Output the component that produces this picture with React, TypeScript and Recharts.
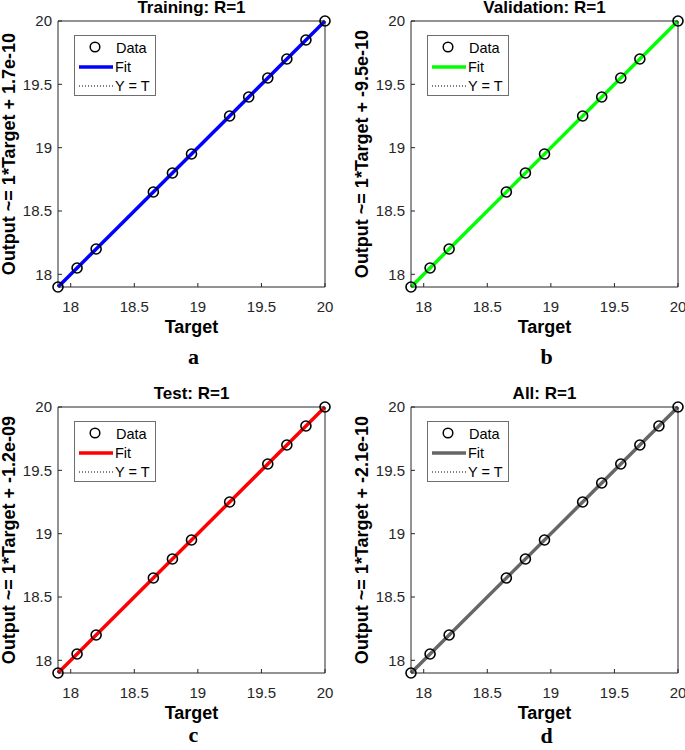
import React from 'react';
import { ComposedChart, Scatter, Line, XAxis, YAxis, ReferenceLine, Legend, Label } from 'recharts';

// ---- data ----
const axisDomain = [17.9, 20];
const axisTicks = [18, 18.5, 19, 19.5, 20];

const trainingTargets = [17.9, 18.05, 18.2, 18.65, 18.8, 18.95, 19.25, 19.4, 19.55, 19.7, 19.85, 20];
const trainingOutputs = [17.9, 18.05, 18.2, 18.65, 18.8, 18.95, 19.25, 19.4, 19.55, 19.7, 19.85, 20];

const validationTargets = [17.9, 18.05, 18.2, 18.65, 18.8, 18.95, 19.25, 19.4, 19.55, 19.7, 20];
const validationOutputs = [17.9, 18.05, 18.2, 18.65, 18.8, 18.95, 19.25, 19.4, 19.55, 19.7, 20];

const testTargets = [17.9, 18.05, 18.2, 18.65, 18.8, 18.95, 19.25, 19.55, 19.7, 19.85, 20];
const testOutputs = [17.9, 18.05, 18.2, 18.65, 18.8, 18.95, 19.25, 19.55, 19.7, 19.85, 20];

const allTargets = [17.9, 18.05, 18.2, 18.65, 18.8, 18.95, 19.25, 19.4, 19.55, 19.7, 19.85, 20];
const allOutputs = [17.9, 18.05, 18.2, 18.65, 18.8, 18.95, 19.25, 19.4, 19.55, 19.7, 19.85, 20];

const panelTitles = ['Training: R=1', 'Validation: R=1', 'Test: R=1', 'All: R=1'];
const yAxisLabels = [
  'Output ~= 1*Target + 1.7e-10',
  'Output ~= 1*Target + -9.5e-10',
  'Output ~= 1*Target + -1.2e-09',
  'Output ~= 1*Target + -2.1e-10',
];
const xAxisLabel = 'Target';
const panelLetters = ['a', 'b', 'c', 'd'];
const fitSlopes = [1, 1, 1, 1];
const fitIntercepts = [1.7e-10, -9.5e-10, -1.2e-9, -2.1e-10];
const fitColors = ['#0000ff', '#00ff00', '#ff0000', '#666666'];
const legendLabels = ['Data', 'Fit', 'Y = T'];

const panelTargets = [trainingTargets, validationTargets, testTargets, allTargets];
const panelOutputs = [trainingOutputs, validationOutputs, testOutputs, allOutputs];

// ---- layout ----
const SANS = '"Liberation Sans", Arial, Helvetica, sans-serif';
const SERIF = '"Liberation Serif", "Times New Roman", serif';
const AXIS_COLOR = '#262626';
const Y_AXIS_W = 45;

const frames = [
  { left: 0, top: 0, width: 342, height: 375, margin: { top: 20, right: 16, bottom: 58, left: 13 }, letterGap: 77 },
  { left: 342, top: 0, width: 343, height: 375, margin: { top: 20, right: 6, bottom: 58, left: 24 }, letterGap: 77 },
  { left: 0, top: 375, width: 342, height: 375, margin: { top: 31, right: 16, bottom: 47, left: 13 }, letterGap: 69 },
  { left: 342, top: 375, width: 343, height: 375, margin: { top: 31, right: 6, bottom: 47, left: 24 }, letterGap: 70 },
];

const DataCircle = (props: any) => {
  const { cx, cy } = props;
  if (cx == null || cy == null) return null;
  return <circle cx={cx} cy={cy} r={5} fill="none" stroke="#000" strokeWidth={1.6} />;
};

const LegendBox = ({ color }: { color: string }) => (
  <svg width={82} height={61} style={{ display: 'block' }}>
    <rect x={0.5} y={0.5} width={81} height={60} fill="#ffffff" stroke="#6e6e6e" strokeWidth={1} />
    <circle cx={21} cy={12} r={4.8} fill="none" stroke="#000" strokeWidth={1.5} />
    <text x={42} y={13} dominantBaseline="central" fontSize={14.5} fontFamily={SANS} fill="#000">{legendLabels[0]}</text>
    <line x1={5} x2={39} y1={32} y2={32} stroke={color} strokeWidth={3.5} />
    <text x={41} y={32} dominantBaseline="central" fontSize={14.5} fontFamily={SANS} fill="#000">{legendLabels[1]}</text>
    <line x1={5} x2={39} y1={51} y2={51} stroke="#000" strokeWidth={1} strokeDasharray="1 2" />
    <text x={41} y={51} dominantBaseline="central" fontSize={14.5} fontFamily={SANS} fill="#000">{legendLabels[2]}</text>
  </svg>
);

function Panel({ idx }: { idx: number }) {
  const f = frames[idx];
  const color = fitColors[idx];
  const points = panelTargets[idx].map((t, i) => ({ x: t, y: panelOutputs[idx][i] }));
  const fitData = axisDomain.map((x) => ({ x, y: fitSlopes[idx] * x + fitIntercepts[idx] }));
  const identity = axisDomain.map((v) => ({ x: v, y: v }));

  const titleContent = (p: any) => {
    const vb = p.viewBox || {};
    return (
      <text x={vb.x + vb.width / 2} y={vb.y + vb.height - 8} textAnchor="middle" fontSize={17} fontWeight="bold" fontFamily={SANS} fill="#000">
        {panelTitles[idx]}
      </text>
    );
  };
  const xLabelContent = (p: any) => {
    const vb = p.viewBox || {};
    return (
      <text x={vb.x + vb.width / 2} y={vb.y + 46} textAnchor="middle" fontSize={18} fontWeight="bold" fontFamily={SANS} fill="#000">
        {xAxisLabel}
      </text>
    );
  };
  const letterContent = (p: any) => {
    const vb = p.viewBox || {};
    return (
      <text x={vb.x + vb.width / 2 + 2} y={vb.y + f.letterGap} textAnchor="middle" fontSize={22} fontWeight="bold" fontFamily={SERIF} fill="#000">
        {panelLetters[idx]}
      </text>
    );
  };
  const yLabelContent = (p: any) => {
    const vb = p.viewBox || {};
    const cx = vb.x + vb.width - 49;
    const cy = vb.y + vb.height / 2;
    return (
      <text x={cx} y={cy} transform={`rotate(-90, ${cx}, ${cy})`} textAnchor="middle" dominantBaseline="central" fontSize={18} fontWeight="bold" fontFamily={SANS} fill="#000">
        {yAxisLabels[idx]}
      </text>
    );
  };

  return (
    <div style={{ position: 'absolute', left: f.left, top: f.top, width: f.width, height: f.height }}>
      <ComposedChart width={f.width} height={f.height} margin={f.margin}>
        <XAxis
          dataKey="x"
          type="number"
          domain={axisDomain}
          ticks={axisTicks}
          interval={0}
          height={30}
          tickSize={-4}
          tickMargin={18}
          stroke={AXIS_COLOR}
          tick={{ fontSize: 15, fill: AXIS_COLOR, fontFamily: SANS }}
        >
          <Label content={xLabelContent} />
          <Label content={letterContent} />
        </XAxis>
        <XAxis
          xAxisId="top"
          orientation="top"
          dataKey="x"
          type="number"
          domain={axisDomain}
          ticks={axisTicks}
          interval={0}
          height={1}
          tickSize={-4}
          tick={false}
          stroke={AXIS_COLOR}
        >
          <Label content={titleContent} />
        </XAxis>
        <YAxis
          dataKey="y"
          type="number"
          domain={axisDomain}
          ticks={axisTicks}
          interval={0}
          width={Y_AXIS_W}
          tickSize={-4}
          tickMargin={10}
          stroke={AXIS_COLOR}
          tick={{ fontSize: 15, fill: AXIS_COLOR, fontFamily: SANS }}
        >
          <Label content={yLabelContent} />
        </YAxis>
        <YAxis
          yAxisId="right"
          orientation="right"
          dataKey="y"
          type="number"
          domain={axisDomain}
          ticks={axisTicks}
          interval={0}
          width={1}
          tickSize={-4}
          tick={false}
          stroke={AXIS_COLOR}
        />
        <ReferenceLine
          segment={identity}
          stroke="#000"
          strokeWidth={1}
          strokeDasharray="1 2"
        />
        <Line
          data={fitData}
          dataKey="y"
          type="linear"
          stroke={color}
          strokeWidth={3.5}
          dot={false}
          activeDot={false}
          isAnimationActive={false}
          legendType="none"
        />
        <Scatter data={points} dataKey="y" shape={DataCircle} isAnimationActive={false} legendType="none" />
        <Legend
          verticalAlign="middle"
          align="center"
          layout="horizontal"
          wrapperStyle={{ left: f.margin.left + Y_AXIS_W + 16, top: f.margin.top + 1 + 14, width: 82, height: 61 }}
          content={() => <LegendBox color={color} />}
        />
      </ComposedChart>
    </div>
  );
}

export default function App() {
  return (
    <div style={{ position: 'absolute', left: 0, top: 0, width: 685, height: 750, background: '#fff', overflow: 'hidden' }}>
      {[0, 1, 2, 3].map((i) => (
        <Panel key={i} idx={i} />
      ))}
    </div>
  );
}
